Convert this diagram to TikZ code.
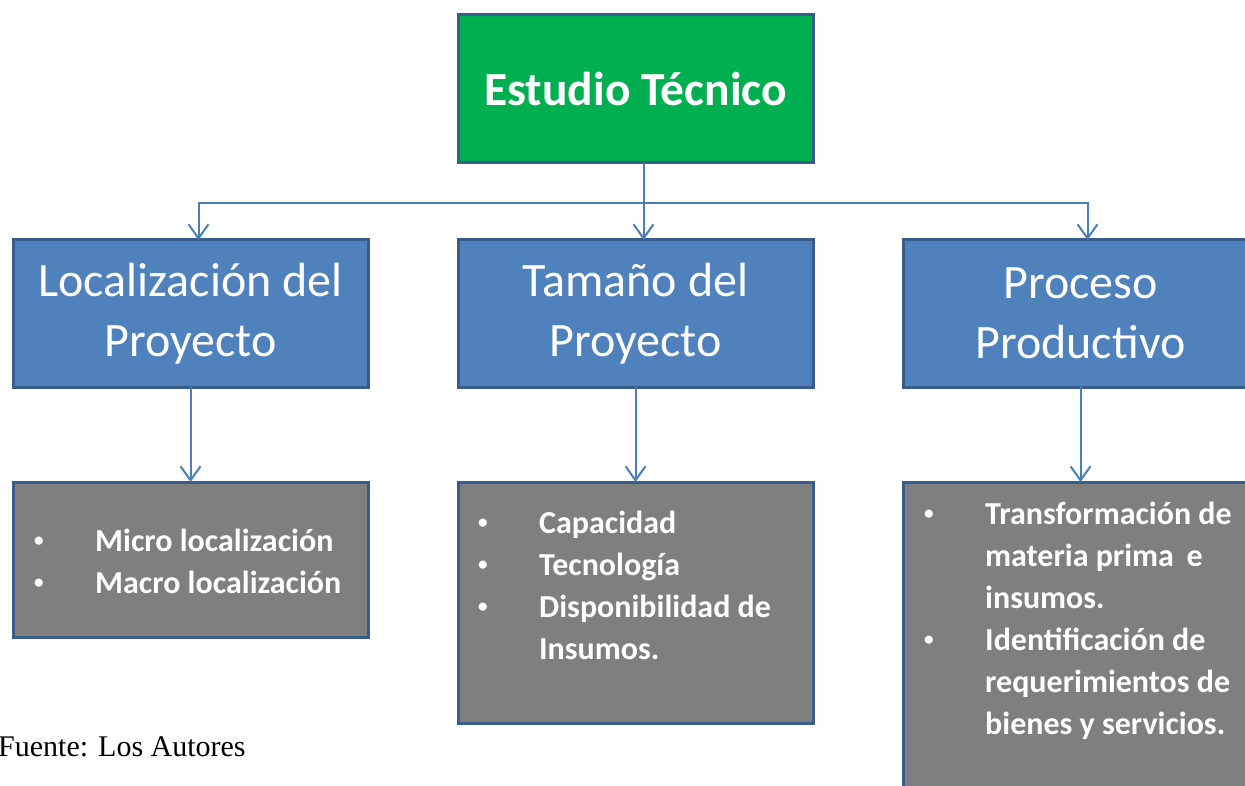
\documentclass[tikz,border=0pt]{standalone}
\usepackage{fontspec}
\setmainfont{Liberation Serif}
\newfontfamily\carlito{Carlito}
\usetikzlibrary{positioning,arrows.meta}
\definecolor{boxgreen}{HTML}{00B050}
\definecolor{boxblue}{HTML}{4F81BD}
\definecolor{edgeblue}{HTML}{385D8A}
\definecolor{linkblue}{HTML}{4A7EBB}
\definecolor{boxgray}{HTML}{7F7F7F}
\newcommand{\itm}{\makebox[64pt][l]{\hspace{3pt}\raisebox{4.5pt}{\scalebox{0.6}{\textbullet}}}}

\begin{document}
\begin{tikzpicture}[x=1pt,y=1pt,
    box/.style={draw=edgeblue, line width=3pt, minimum width=355pt, outer sep=0pt, inner sep=0pt, text=white},
    title/.style={box, fill=boxgreen, minimum height=148pt, font=\carlito\bfseries\fontsize{47.5}{56}\selectfont},
    head/.style={box, fill=boxblue, minimum height=147pt, align=center, font=\carlito\fontsize{48}{60}\selectfont},
    list/.style={box, fill=boxgray, anchor=north},
    items/.style={text=white, anchor=base west, inner sep=0pt, font=\carlito\bfseries\fontsize{32}{42}\selectfont},
    link/.style={draw=linkblue, line width=2pt, -{Straight Barb[length=14pt,width=20pt]}}]
    \useasboundingbox (0,0) rectangle (1245,-786);
    \clip (0,0) rectangle (1245,-786);

    \node[title] (0) at (635.5,-89) {Estudio Técnico};

    \node[head] (2) [below=77pt of 0] {Tamaño del\\Proyecto};
    \node[head] (1) [left=90pt of 2] {Localización del\\Proyecto};
    \node[head] (3) [right=90pt of 2] {Proceso\\Productivo};

    \node[list, minimum height=155pt] (4) [below=95pt of 1] {};
    \node[list, minimum height=241pt] (5) [below=95pt of 2] {};
    \node[list, minimum height=330pt] (6) [below=95pt of 3] {};

    \node[items] (7) at (31,-551) {\begin{tabular}[t]{@{}l@{}l@{}}
        \itm & Micro localización\\
        \itm & Macro localización
    \end{tabular}};
    \node[items] (8) at (475,-533) {\begin{tabular}[t]{@{}l@{}l@{}}
        \itm & Capacidad\\
        \itm & Tecnología\\
        \itm & Disponibilidad de\\
             & Insumos.
    \end{tabular}};
    \node[items] (9) at (921,-524) {\begin{tabular}[t]{@{}l@{}l@{}}
        \itm & Transformación de\\
             & materia prima\, e\\
             & insumos.\\
        \itm & Identificación de\\
             & requerimientos de\\
             & bienes y servicios.
    \end{tabular}};

    \node[anchor=base west, inner sep=0pt, font=\fontsize{30}{34}\selectfont] (10) at (-2,-756) {Fuente: Los Autores};

    \coordinate (11) at ([xshift=8pt,yshift=-40pt]0.south);
    \draw[link] ([xshift=8pt]0.south) -- (11) -| ([xshift=8pt]1.north);
    \draw[link] (11) -- ([xshift=8pt]2.north);
    \draw[link] (11) -| ([xshift=7pt]3.north);

    \draw[link] (1) -- (4);
    \draw[link] (2) -- (5);
    \draw[link] (3) -- (6);
\end{tikzpicture}
\end{document}
